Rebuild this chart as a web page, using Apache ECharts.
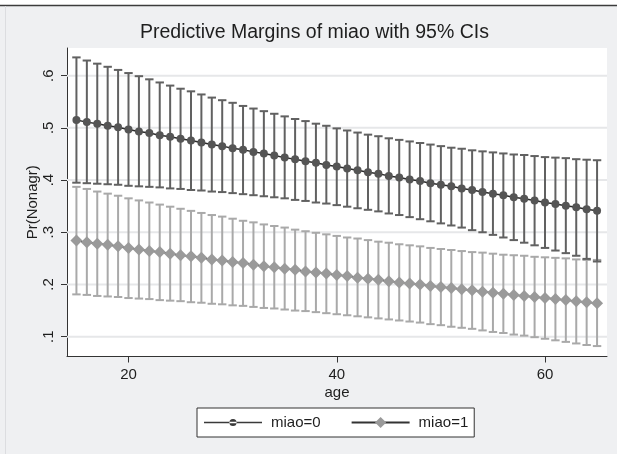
<!DOCTYPE html>
<html>
<head>
<meta charset="utf-8">
<script src="https://cdn.jsdelivr.net/npm/echarts@6/dist/echarts.min.js"></script>
<style>html,body{margin:0;padding:0;background:#eff0f2;}#c{width:617px;height:454px;}</style>
</head>
<body>
<div id="c"></div>
<script>
const ages = [15,16,17,18,19,20,21,22,23,24,25,26,27,28,29,30,31,32,33,34,35,36,37,38,39,40,41,42,43,44,45,46,47,48,49,50,51,52,53,54,55,56,57,58,59,60,61,62,63,64,65];
const est0 = [0.515,0.511,0.508,0.504,0.501,0.497,0.493,0.490,0.486,0.483,0.479,0.476,0.472,0.468,0.465,0.461,0.458,0.454,0.451,0.447,0.443,0.440,0.436,0.433,0.429,0.426,0.422,0.419,0.415,0.412,0.408,0.405,0.401,0.398,0.394,0.391,0.388,0.384,0.381,0.377,0.374,0.371,0.367,0.364,0.361,0.357,0.354,0.351,0.348,0.344,0.341];
const lo0 = [0.395,0.394,0.393,0.392,0.391,0.389,0.388,0.387,0.386,0.384,0.383,0.381,0.380,0.378,0.377,0.375,0.373,0.371,0.369,0.367,0.365,0.362,0.360,0.357,0.355,0.352,0.349,0.346,0.343,0.340,0.336,0.333,0.329,0.325,0.321,0.317,0.313,0.309,0.304,0.300,0.295,0.290,0.285,0.280,0.275,0.270,0.265,0.260,0.255,0.249,0.244];
const hi0 = [0.635,0.629,0.623,0.617,0.611,0.605,0.599,0.593,0.587,0.581,0.575,0.570,0.564,0.558,0.553,0.548,0.542,0.537,0.532,0.527,0.522,0.517,0.513,0.508,0.504,0.499,0.495,0.491,0.487,0.484,0.480,0.477,0.474,0.471,0.468,0.465,0.462,0.460,0.457,0.455,0.453,0.451,0.449,0.448,0.446,0.444,0.443,0.442,0.440,0.439,0.438];
const est1 = [0.284,0.281,0.278,0.276,0.273,0.270,0.267,0.264,0.262,0.259,0.256,0.254,0.251,0.248,0.246,0.243,0.241,0.238,0.235,0.233,0.230,0.228,0.225,0.223,0.221,0.218,0.216,0.213,0.211,0.209,0.206,0.204,0.202,0.200,0.197,0.195,0.193,0.191,0.189,0.186,0.184,0.182,0.180,0.178,0.176,0.174,0.172,0.170,0.168,0.166,0.164];
const lo1 = [0.181,0.180,0.178,0.177,0.176,0.174,0.173,0.172,0.170,0.169,0.168,0.166,0.165,0.163,0.162,0.160,0.159,0.157,0.155,0.154,0.152,0.150,0.149,0.147,0.145,0.143,0.141,0.139,0.137,0.135,0.133,0.131,0.129,0.127,0.124,0.122,0.119,0.117,0.115,0.112,0.109,0.107,0.104,0.102,0.099,0.096,0.093,0.090,0.087,0.084,0.082];
const hi1 = [0.387,0.383,0.378,0.374,0.370,0.365,0.361,0.357,0.353,0.349,0.345,0.341,0.337,0.333,0.330,0.326,0.322,0.319,0.315,0.312,0.309,0.305,0.302,0.299,0.296,0.293,0.290,0.288,0.285,0.282,0.280,0.277,0.275,0.273,0.270,0.268,0.266,0.264,0.262,0.261,0.259,0.257,0.256,0.255,0.253,0.252,0.251,0.250,0.248,0.247,0.247];
const xTicks = [20,40,60];
const yTicks = [0.1,0.2,0.3,0.4,0.5,0.6];
const yTickLabels = ['.1','.2','.3','.4','.5','.6'];
const seriesNames = ['miao=0','miao=1'];

const FONT = "'Liberation Sans', Arial, sans-serif";
const X_MIN = 14.094, X_MAX = 65.954, Y_MIN = 0.062, Y_MAX = 0.653;

function errRender(color) {
  return function (params, api) {
    const x = api.value(0);
    const a = api.coord([x, api.value(1)]);
    const b = api.coord([x, api.value(2)]);
    const cw = 4.2;
    const st = { stroke: color, lineWidth: 2 };
    return {
      type: 'group',
      children: [
        { type: 'line', shape: { x1: a[0], y1: a[1], x2: b[0], y2: b[1] }, style: st },
        { type: 'line', shape: { x1: a[0] - cw, y1: a[1], x2: a[0] + cw, y2: a[1] }, style: st },
        { type: 'line', shape: { x1: b[0] - cw, y1: b[1], x2: b[0] + cw, y2: b[1] }, style: st }
      ]
    };
  };
}

function gridRender(params, api) {
  const y = api.coord([X_MIN, api.value(1)])[1];
  const cs = params.coordSys;
  return { type: 'line', shape: { x1: cs.x, y1: y, x2: cs.x + cs.width, y2: y },
           style: { stroke: '#e6e7e9', lineWidth: 2 } };
}

// legend icon for miao=0: line with a small dot
const ICON0 = 'path://M0 6.25 L58 6.25 L58 7.75 L0 7.75 Z M25.4 7 A3.6 3.6 0 1 0 32.6 7 A3.6 3.6 0 1 0 25.4 7 Z';

const chart = echarts.init(document.getElementById('c'), null, { renderer: 'canvas' });
chart.setOption({
  animation: false,
  backgroundColor: '#eff0f2',
  textStyle: { fontFamily: FONT },
  title: {
    text: 'Predictive Margins of miao with 95% CIs',
    left: 140, top: 23, padding: 0,
    textStyle: { fontFamily: FONT, fontSize: 19.5, fontWeight: 'normal', color: '#1e1e1e' }
  },
  graphic: [
    { type: 'rect', shape: { x: 0, y: 0, width: 617, height: 5 }, style: { fill: '#ffffff' }, silent: true },
    { type: 'line', shape: { x1: 0, y1: 5.5, x2: 617, y2: 5.5 }, style: { stroke: '#3c3c3c', lineWidth: 1.5 }, silent: true },
    { type: 'line', shape: { x1: 5.5, y1: 6, x2: 5.5, y2: 454 }, style: { stroke: '#dcdde0', lineWidth: 1 }, silent: true },
    { type: 'rect', shape: { x: 67, y: 48, width: 540, height: 308.5 }, style: { fill: '#ffffff' }, z: -1, silent: true }
  ],
  grid: { left: 67, right: 10, top: 48, bottom: 97.5, show: false },
  legend: {
    data: [
      { name: seriesNames[0], icon: ICON0, itemStyle: { color: '#3a3a3a' } },
      { name: seriesNames[1] }
    ],
    left: 197, top: 408,
    padding: [7, 6, 7, 7],
    itemWidth: 58, itemHeight: 14, itemGap: 30,
    backgroundColor: '#ffffff', borderColor: '#333333', borderWidth: 1, borderRadius: 0,
    textStyle: { fontFamily: FONT, fontSize: 15, color: '#1e1e1e', padding: [0, 0, 0, 4] }
  },
  xAxis: {
    type: 'value', min: X_MIN, max: X_MAX,
    name: 'age', nameLocation: 'middle', nameGap: 29, nameMoveOverlap: false,
    nameTextStyle: { fontFamily: FONT, fontSize: 15, color: '#1e1e1e' },
    axisLine: { show: true, lineStyle: { color: '#333', width: 1 } },
    axisTick: { show: true, customValues: xTicks, length: 6, lineStyle: { color: '#333', width: 1 } },
    axisLabel: { customValues: xTicks, margin: 11, fontFamily: FONT, fontSize: 15, color: '#1e1e1e' },
    splitLine: { show: false }
  },
  yAxis: {
    type: 'value', min: Y_MIN, max: Y_MAX,
    name: 'Pr(Nonagr)', nameLocation: 'middle', nameGap: 27, nameMoveOverlap: false,
    nameTextStyle: { fontFamily: FONT, fontSize: 15, color: '#1e1e1e' },
    axisLine: { show: true, lineStyle: { color: '#333', width: 1 } },
    axisTick: { show: true, customValues: yTicks, length: 6, lineStyle: { color: '#333', width: 1 } },
    axisLabel: {
      customValues: yTicks, rotate: 90, margin: 11, fontFamily: FONT, fontSize: 15, color: '#1e1e1e',
      formatter: function (v) { const i = yTicks.findIndex(t => Math.abs(t - v) < 1e-9); return i >= 0 ? yTickLabels[i] : ''; }
    },
    splitLine: { show: false }
  },
  series: [
    { type: 'custom', name: 'grid', silent: true, z: 1, renderItem: gridRender,
      data: yTicks.map(v => [X_MIN, v]), encode: { x: 0, y: 1 } },
    { type: 'custom', name: 'ci1', silent: true, z: 2, renderItem: errRender('#a9a9a9'),
      data: ages.map((a, i) => [a, lo1[i], hi1[i]]), encode: { x: 0, y: [1, 2] } },
    { type: 'custom', name: 'ci0', silent: true, z: 3, renderItem: errRender('#616161'),
      data: ages.map((a, i) => [a, lo0[i], hi0[i]]), encode: { x: 0, y: [1, 2] } },
    { type: 'line', name: seriesNames[1], z: 4,
      data: ages.map((a, i) => [a, est1[i]]),
      symbol: 'diamond', symbolSize: 12, showAllSymbol: true,
      lineStyle: { color: '#333333', width: 1.5 },
      itemStyle: { color: '#9a9a9a', borderWidth: 0 } },
    { type: 'line', name: seriesNames[0], z: 5,
      data: ages.map((a, i) => [a, est0[i]]),
      symbol: 'circle', symbolSize: 8, showAllSymbol: true,
      lineStyle: { color: '#2a2a2a', width: 1.5 },
      itemStyle: { color: '#555555', borderWidth: 0 } }
  ]
});
</script>
</body>
</html>
